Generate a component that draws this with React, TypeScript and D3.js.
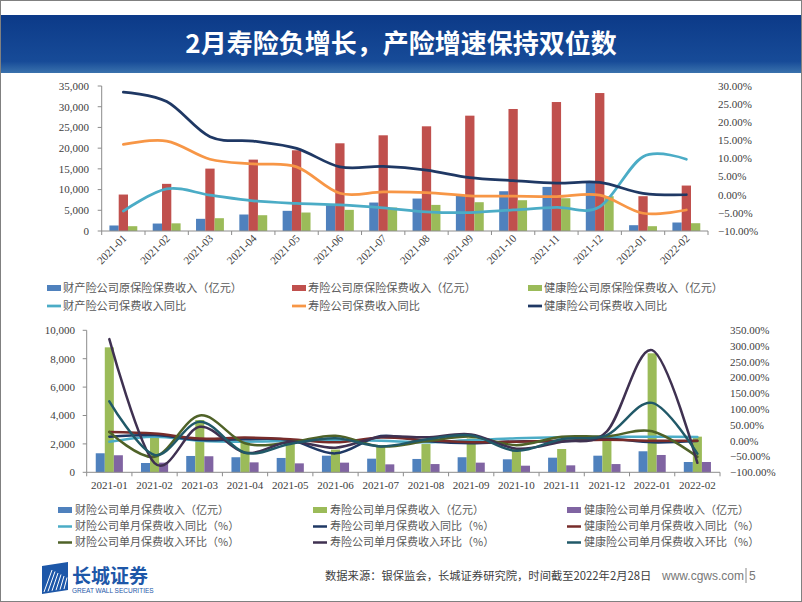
import React from 'react';
import * as d3 from 'd3';

const categories = ['2021-01','2021-02','2021-03','2021-04','2021-05','2021-06','2021-07','2021-08','2021-09','2021-10','2021-11','2021-12','2022-01','2022-02'];

// Top chart: cumulative premiums (亿元) and cumulative YoY (%)
const propCum = [1330, 1800, 2940, 3980, 4870, 6230, 6870, 7830, 8560, 9600, 10650, 11770, 1400, 2050];
const lifeCum = [8800, 11380, 15060, 17230, 19480, 21170, 23100, 25270, 27840, 29450, 31130, 33300, 8400, 10970];
const healthCum = [1160, 1850, 3090, 3810, 4460, 5100, 5660, 6300, 6950, 7430, 7910, 8400, 1160, 1880];
const propCumYoy = [-4.5, 1.6, -0.1, -1.7, -2.4, -2.8, -3.6, -4.7, -4.9, -4.2, -3.5, -3.3, 10.5, 9.8];
const lifeCumYoy = [13.9, 14.8, 9.8, 8.5, 7.7, 0.4, 0.8, 0.6, -0.3, -0.4, -0.5, -0.1, -5.1, -4.2];
const healthCumYoy = [28.3, 25.7, 16.0, 14.8, 12.8, 7.7, 7.8, 6.8, 4.7, 3.9, 3.2, 3.4, 0.4, 0.0];

// Bottom chart: monthly premiums (亿元), monthly YoY and MoM (%)
const propMonth = [1340, 655, 1150, 1060, 1010, 1170, 960, 940, 1060, 915, 1030, 1170, 1480, 725];
const lifeMonth = [8800, 2550, 3680, 2110, 2040, 1600, 1800, 1990, 2390, 1690, 1640, 2220, 8380, 2510];
const healthMonth = [1200, 680, 1130, 700, 630, 680, 560, 580, 680, 465, 490, 580, 1220, 725];
const propYoy = [-3, 13, 0, -3, 0, 2, 0, -5, 2, 8, 11, 12, 13, 12];
const lifeYoy = [13, 18, 2, 5, 2, -40, 15, -1, -8, -2, -2, 6, -5, -1];
const healthYoy = [28, 23, 7, 10, 5, -5, 10, 2, -5, -3, 0, 3, 0, 0];
const propMom = [28, -51, 80, -8, -5, 16, -18, -2, 13, -14, 13, 14, 30, -51];
const lifeMom = [322, -71, 44, -38, -3, -22, 13, 11, 20, -25, -3, 30, 287, -70];
const healthMom = [125, -45, 60, -38, -10, 8, -18, 4, 17, -32, 5, 18, 120, -41];

const topLeftTicks = [0, 5000, 10000, 15000, 20000, 25000, 30000, 35000];
const topRightTicks = [-10, -5, 0, 5, 10, 15, 20, 25, 30];
const botLeftTicks = [0, 2000, 4000, 6000, 8000, 10000];
const botRightTicks = [-100, -50, 0, 50, 100, 150, 200, 250, 300, 350];

const topBarLabels = ['财产险公司原保险保费收入（亿元）', '寿险公司原保险保费收入（亿元）', '健康险公司原保险保费收入（亿元）'];
const topLineLabels = ['财产险公司保费收入同比', '寿险公司保费收入同比', '健康险公司保费收入同比'];
const botBarLabels = ['财险公司单月保费收入（亿元）', '寿险公司单月保费收入（亿元）', '健康险公司单月保费收入（亿元）'];
const botYoyLabels = ['财险公司单月保费收入同比（%）', '寿险公司单月保费收入同比（%）', '健康险公司单月保费收入同比（%）'];
const botMomLabels = ['财险公司单月保费收入环比（%）', '寿险公司单月保费收入环比（%）', '健康险公司单月保费收入环比（%）'];

const NUM_FONT = '"Liberation Serif", "Times New Roman", serif';
const CJK_FONT = '"Noto Sans CJK SC", sans-serif';
const AXIS = '#8c8c8c';
const TXT = '#404040';
const LEG = '#595959';

export default function App() {
  const W = 802, H = 602;

  // ---------- top chart ----------
  const tx = d3.scaleBand<string>().domain(categories).range([101.7, 708]);
  const tSub = d3.scaleBand<string>().domain(['a', 'b', 'c']).range([0, tx.bandwidth()]).paddingOuter(0.83);
  const tyL = d3.scaleLinear().domain([0, 35000]).range([231, 86]);
  const tyR = d3.scaleLinear().domain([-10, 30]).range([231, 86]);
  const tBars = [
    { vals: propCum, key: 'a', color: '#4F81BD' },
    { vals: lifeCum, key: 'b', color: '#C0504D' },
    { vals: healthCum, key: 'c', color: '#9BBB59' },
  ];
  const tLines = [
    { vals: propCumYoy, color: '#4BACC6' },
    { vals: lifeCumYoy, color: '#F79646' },
    { vals: healthCumYoy, color: '#1F3864' },
  ];
  const tLine = d3.line<number>()
    .x((_, i) => (tx(categories[i]) as number) + tx.bandwidth() / 2)
    .y((d) => tyR(d))
    .curve(d3.curveCardinal.tension(0));

  // ---------- bottom chart ----------
  const bx = d3.scaleBand<string>().domain(categories).range([86.7, 720]);
  const bSub = d3.scaleBand<string>().domain(['a', 'b', 'c']).range([0, bx.bandwidth()]).paddingOuter(1.0);
  const byL = d3.scaleLinear().domain([0, 10000]).range([472.3, 330.3]);
  const byR = d3.scaleLinear().domain([-100, 350]).range([472.3, 330.3]);
  const bBars = [
    { vals: propMonth, key: 'a', color: '#4F81BD' },
    { vals: lifeMonth, key: 'b', color: '#9BBB59' },
    { vals: healthMonth, key: 'c', color: '#8064A2' },
  ];
  const bLines = [
    { vals: propYoy, color: '#4BACC6' },
    { vals: lifeYoy, color: '#1F3864' },
    { vals: healthYoy, color: '#772C2A' },
    { vals: propMom, color: '#4F6228' },
    { vals: lifeMom, color: '#3F3151' },
    { vals: healthMom, color: '#215968' },
  ];
  const bLine = d3.line<number>()
    .x((_, i) => (bx(categories[i]) as number) + bx.bandwidth() / 2)
    .y((d) => byR(d))
    .curve(d3.curveCardinal.tension(0));

  const fmtInt = d3.format(',');
  const fmtPct = (v: number) => d3.format('.2f')(v) + '%';

  const topLegX = [47, 292, 528];
  const botLegX = [58, 313, 567];
  const SW = 14;

  return (
    <svg width={W} height={H} style={{ position: 'absolute', left: 0, top: 0, background: '#fff' }}>
      <defs>
        <linearGradient id="banner" x1="0" y1="0" x2="0" y2="1">
          <stop offset="0" stopColor="#0c3a88" />
          <stop offset="0.8" stopColor="#174b98" />
          <stop offset="1" stopColor="#3a72ad" />
        </linearGradient>
      </defs>
      <rect x={0} y={0} width={W} height={H} fill="#fff" />
      {/* banner */}
      <rect x={1} y={15} width={800} height={58} fill="url(#banner)" />
      <text x={401} y={53} textAnchor="middle" fill="#fff" fontFamily={CJK_FONT} fontWeight={700} fontSize={26}>
        2月寿险负增长，产险增速保持双位数
      </text>

      {/* ===== top chart ===== */}
      <g>
        {tBars.map((s) => s.vals.map((v, i) => (
          <rect key={s.key + i} x={(tx(categories[i]) as number) + (tSub(s.key) as number)} y={tyL(v)}
            width={tSub.bandwidth()} height={tyL(0) - tyL(v)} fill={s.color} />
        )))}
        <line x1={101.7} x2={101.7} y1={86} y2={231} stroke={AXIS} />
        {topLeftTicks.map((t) => (
          <g key={'tl' + t}>
            <line x1={97.7} x2={101.7} y1={tyL(t)} y2={tyL(t)} stroke={AXIS} />
            <text x={89} y={tyL(t)} dy="0.35em" textAnchor="end" fontFamily={NUM_FONT} fontSize={11} fill={TXT}>{fmtInt(t)}</text>
          </g>
        ))}
        {topRightTicks.map((t) => (
          <text key={'tr' + t} x={718} y={tyR(t)} dy="0.35em" textAnchor="start" fontFamily={NUM_FONT} fontSize={11} fill={TXT}>{fmtPct(t)}</text>
        ))}
        <line x1={101.7} x2={708} y1={231} y2={231} stroke={AXIS} />
        {categories.map((c) => (
          <line key={'tt' + c} x1={tx(c) as number} x2={tx(c) as number} y1={231} y2={235} stroke={AXIS} />
        ))}
        <line x1={708} x2={708} y1={231} y2={235} stroke={AXIS} />
        {categories.map((c) => {
          const cx = (tx(c) as number) + tx.bandwidth() / 2;
          return (
            <text key={'tx' + c} transform={`translate(${cx + 4},${239}) rotate(-45)`} textAnchor="end"
              fontFamily={NUM_FONT} fontSize={11} fill={TXT}>{c}</text>
          );
        })}
        {tLines.map((l, k) => (
          <path key={'tline' + k} d={tLine(l.vals) as string} fill="none" stroke={l.color} strokeWidth={2.75} strokeLinecap="round" />
        ))}
        {topBarLabels.map((lab, k) => (
          <g key={'tlb' + k}>
            <rect x={topLegX[k]} y={285} width={SW} height={6} fill={tBars[k].color} />
            <text x={topLegX[k] + SW + 2} y={288} dy="0.35em" fontFamily={CJK_FONT} fontSize={11.2} fill={LEG}>{lab}</text>
          </g>
        ))}
        {topLineLabels.map((lab, k) => (
          <g key={'tll' + k}>
            <line x1={topLegX[k]} x2={topLegX[k] + SW} y1={306} y2={306} stroke={tLines[k].color} strokeWidth={2.75} />
            <text x={topLegX[k] + SW + 2} y={306} dy="0.35em" fontFamily={CJK_FONT} fontSize={11.2} fill={LEG}>{lab}</text>
          </g>
        ))}
      </g>

      {/* ===== bottom chart ===== */}
      <g>
        {bBars.map((s) => s.vals.map((v, i) => (
          <rect key={'b' + s.key + i} x={(bx(categories[i]) as number) + (bSub(s.key) as number)} y={byL(v)}
            width={bSub.bandwidth()} height={byL(0) - byL(v)} fill={s.color} />
        )))}
        <line x1={86.7} x2={86.7} y1={330.3} y2={472.3} stroke={AXIS} />
        {botLeftTicks.map((t) => (
          <g key={'bl' + t}>
            <line x1={82.7} x2={86.7} y1={byL(t)} y2={byL(t)} stroke={AXIS} />
            <text x={75} y={byL(t)} dy="0.35em" textAnchor="end" fontFamily={NUM_FONT} fontSize={11} fill={TXT}>{fmtInt(t)}</text>
          </g>
        ))}
        {botRightTicks.map((t) => (
          <text key={'br' + t} x={730} y={byR(t)} dy="0.35em" textAnchor="start" fontFamily={NUM_FONT} fontSize={11} fill={TXT}>{fmtPct(t)}</text>
        ))}
        <line x1={86.7} x2={720} y1={472.3} y2={472.3} stroke={AXIS} />
        {categories.map((c) => (
          <line key={'bt' + c} x1={bx(c) as number} x2={bx(c) as number} y1={472.3} y2={476.3} stroke={AXIS} />
        ))}
        <line x1={720} x2={720} y1={472.3} y2={476.3} stroke={AXIS} />
        {categories.map((c) => (
          <text key={'bxl' + c} x={(bx(c) as number) + bx.bandwidth() / 2} y={489} textAnchor="middle"
            fontFamily={NUM_FONT} fontSize={11} fill={TXT}>{c}</text>
        ))}
        {bLines.map((l, k) => (
          <path key={'bline' + k} d={bLine(l.vals) as string} fill="none" stroke={l.color} strokeWidth={2.5} strokeLinecap="round" />
        ))}
        {botBarLabels.map((lab, k) => (
          <g key={'blb' + k}>
            <rect x={botLegX[k]} y={507} width={SW} height={6} fill={bBars[k].color} />
            <text x={botLegX[k] + SW + 3} y={510} dy="0.35em" fontFamily={CJK_FONT} fontSize={11} fill={LEG}>{lab}</text>
          </g>
        ))}
        {botYoyLabels.map((lab, k) => (
          <g key={'bly' + k}>
            <line x1={botLegX[k]} x2={botLegX[k] + SW} y1={526.5} y2={526.5} stroke={bLines[k].color} strokeWidth={2.5} />
            <text x={botLegX[k] + SW + 3} y={526.5} dy="0.35em" fontFamily={CJK_FONT} fontSize={11} fill={LEG}>{lab}</text>
          </g>
        ))}
        {botMomLabels.map((lab, k) => (
          <g key={'blm' + k}>
            <line x1={botLegX[k]} x2={botLegX[k] + SW} y1={542.5} y2={542.5} stroke={bLines[k + 3].color} strokeWidth={2.5} />
            <text x={botLegX[k] + SW + 3} y={542.5} dy="0.35em" fontFamily={CJK_FONT} fontSize={11} fill={LEG}>{lab}</text>
          </g>
        ))}
      </g>

      {/* footer */}
      <g>
        <path d="M42,566 L68,562 L68,590 L42,594 Z" fill="#1d57a8" />
        {[0, 1, 2, 3, 4, 5].map((k) => (
          <line key={'lg' + k} x1={44 + k * 4} y1={592 - k * 0.6} x2={52 + k * 3} y2={570 + k * 1.5} stroke="#fff" strokeWidth={1} />
        ))}
        <text x={72} y={583} fontFamily={CJK_FONT} fontWeight={700} fontSize={19} fill="#1d57a8">长城证券</text>
        <text x={72} y={593} fontFamily='"Liberation Sans", Arial, sans-serif' fontSize={6.5} fill="#1d57a8">GREAT WALL SECURITIES</text>
        <text x={325} y={580} fontFamily={CJK_FONT} fontSize={11.3} fill="#404040">数据来源：银保监会，长城证券研究院，时间截至2022年2月28日</text>
        <text x={662} y={580} fontFamily='"Liberation Sans", Arial, sans-serif' fontSize={12} fill="#777">www.cgws.com</text>
        <line x1={746} x2={746} y1={568} y2={583} stroke="#888" strokeWidth={1} />
        <text x={749} y={580} fontFamily='"Liberation Sans", Arial, sans-serif' fontSize={12} fill="#777">5</text>
      </g>

      <rect x={0.5} y={0.5} width={W - 1} height={H - 1} fill="none" stroke="#808080" strokeWidth={1} />
    </svg>
  );
}
